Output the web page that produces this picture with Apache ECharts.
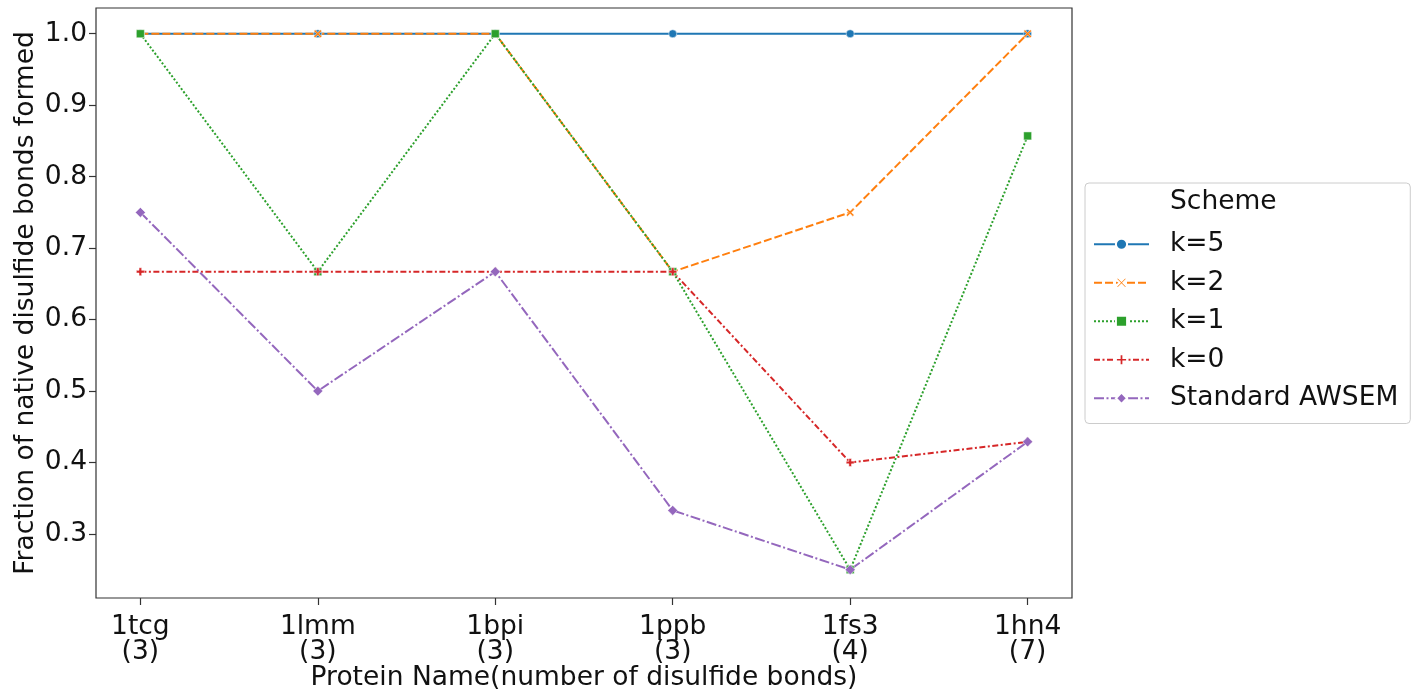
<!DOCTYPE html>
<html><head><meta charset="utf-8">
<script src="https://cdn.jsdelivr.net/npm/echarts@6/dist/echarts.min.js"></script>
<style>html,body{margin:0;padding:0;background:#fff}#c{width:1416px;height:692px}</style>
</head><body><div id="c"></div>
<script>
const categories = ['1tcg\n(3)', '1lmm\n(3)', '1bpi\n(3)', '1ppb\n(3)', '1fs3\n(4)', '1hn4\n(7)'];
const k5 = [1, 1, 1, 1, 1, 1];
const k2 = [1, 1, 1, 0.667, 0.75, 1];
const k1 = [1, 0.667, 1, 0.667, 0.25, 0.857];
const k0 = [0.667, 0.667, 0.667, 0.667, 0.4, 0.429];
const standard = [0.75, 0.5, 0.667, 0.333, 0.25, 0.429];
const yTicks = [0.3, 0.4, 0.5, 0.6, 0.7, 0.8, 0.9, 1.0];
const xTicks = [0, 1, 2, 3, 4, 5];

const F = 'DejaVu Sans';
const FS = 26.5;
const xMark = 'path://M0,1 L1,0 L3,2 L5,0 L6,1 L4,3 L6,5 L5,6 L3,4 L1,6 L0,5 L2,3 Z';
const plusMark = 'path://M2,0 H4 V2 H6 V4 H4 V6 H2 V4 H0 V2 H2 Z';

function mk(name, vals, color, dash, symbol, size) {
  return {
    name, type: 'line', data: vals.map((v, i) => [i, v]),
    symbol, symbolSize: size, showSymbol: true,
    lineStyle: { color, width: 2, type: dash },
    itemStyle: { color, borderColor: '#fff', borderWidth: 0.5 },
    emphasis: { disabled: true }, animation: false
  };
}

const chart = echarts.init(document.getElementById('c'));
chart.setOption({
  backgroundColor: '#fff',
  animation: false,
  grid: { left: 96, right: 344, top: 8, bottom: 94, outerBoundsMode: 'none', containLabel: false, show: true, borderColor: '#333', borderWidth: 1.2, backgroundColor: 'transparent' },
  xAxis: {
    type: 'value', min: -0.25, max: 5.25,
    splitLine: { show: false },
    axisLine: { show: false, onZero: false },
    axisTick: { show: true, length: 7, lineStyle: { color: '#333', width: 1.2 }, customValues: xTicks },
    axisLabel: { customValues: xTicks, formatter: v => categories[Math.round(v)], fontFamily: F, fontSize: FS, color: '#111', lineHeight: 25, margin: 17 },
    name: 'Protein Name(number of disulfide bonds)', nameLocation: 'middle', nameGap: 67, nameMoveOverlap: false,
    nameTextStyle: { fontFamily: F, fontSize: FS, color: '#111' }
  },
  yAxis: {
    type: 'value', min: 0.2104, max: 1.036,
    splitLine: { show: false },
    axisLine: { show: false, onZero: false },
    axisTick: { show: true, length: 7, lineStyle: { color: '#333', width: 1.2 }, customValues: yTicks },
    axisLabel: { customValues: yTicks, formatter: v => v.toFixed(1), fontFamily: F, fontSize: FS, color: '#111', margin: 9 },
    name: 'Fraction of native disulfide bonds formed', nameLocation: 'middle', nameGap: 56, nameMoveOverlap: false,
    nameTextStyle: { fontFamily: F, fontSize: FS, color: '#111' }
  },
  legend: {
    orient: 'vertical', left: 1085, top: 183,
    padding: [46, 12, 10, 8],
    borderColor: '#ccc', borderWidth: 1, borderRadius: 4,
    itemWidth: 55, itemHeight: 14, itemGap: 8,
    textStyle: { fontFamily: F, fontSize: FS, color: '#111', padding: [0, 0, 0, 16], lineHeight: 30.5 },
    data: ['k=5', 'k=2', 'k=1', 'k=0', 'Standard AWSEM']
  },
  graphic: [{ type: 'text', left: 1170, top: 189, style: { text: 'Scheme', font: FS + 'px "DejaVu Sans"', fill: '#111' } }],
  series: [
    mk('k=5', k5, '#1f77b4', 'solid', 'circle', 8),
    mk('k=2', k2, '#ff7f0e', [8, 3], xMark, 8),
    mk('k=1', k1, '#2ca02c', [2, 2], 'rect', 8),
    mk('k=0', k0, '#d62728', [6, 2.5, 2, 2.5], plusMark, 8),
    mk('Standard AWSEM', standard, '#9467bd', [10, 2.5, 2, 2.5], 'diamond', 10)
  ]
});
</script></body></html>
